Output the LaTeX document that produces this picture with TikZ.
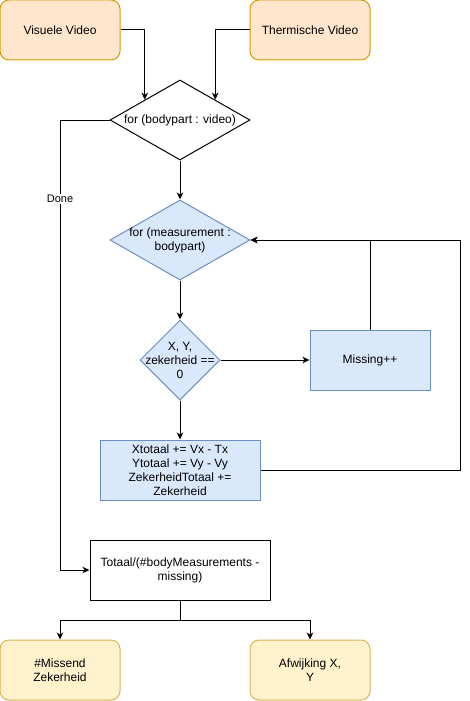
\documentclass[tikz,border=0pt]{standalone}
\usepackage{fontspec}
\setmainfont{Liberation Sans}
\usetikzlibrary{shapes.geometric,arrows.meta}
\definecolor{orF}{HTML}{FFE6CC}\definecolor{orS}{HTML}{D79B00}
\definecolor{blF}{HTML}{DAE8FC}\definecolor{blS}{HTML}{6C8EBF}
\definecolor{yeF}{HTML}{FFF2CC}\definecolor{yeS}{HTML}{D6B656}
\tikzset{
  base/.style={inner sep=0pt, align=center, font=\fontsize{12}{14}\selectfont, line width=1pt},
  term/.style={base, draw=orS, fill=orF, rounded corners=9pt, minimum width=120pt, minimum height=60pt},
  outp/.style={base, draw=yeS, fill=yeF, rounded corners=9pt, minimum width=120pt, minimum height=60pt},
  proc/.style={base, draw=blS, fill=blF},
  plain/.style={base, draw=black, fill=white},
  dia/.style={base, shape=diamond, aspect=1},
  arr/.style={line width=1pt, -{Stealth[length=7pt,width=6.5pt,inset=2pt]}},
  ln/.style={line width=1pt},
  lbl/.style={inner sep=1pt, fill=white, font=\fontsize{11}{13}\selectfont}
}
\begin{document}
\begin{tikzpicture}[x=1pt,y=-1pt]
\useasboundingbox (0,0) rectangle (469,701);
\node[term] (v1) at (60,30) {Visuele Video};
\node[term] (t1) at (310,30) {Thermische Video};
\node[dia, draw=black, fill=white, minimum width=140pt, minimum height=80pt,
  label={[base,line width=0pt]center:for (bodypart : video)}] (d1) at (180,120) {};
\node[dia, draw=blS, fill=blF, minimum width=140pt, minimum height=80pt,
  label={[base,line width=0pt]center:for (measurement :\\bodypart)}] (d2) at (180,240) {};
\node[dia, draw=blS, fill=blF, minimum width=80pt, minimum height=80pt,
  label={[base,line width=0pt]center:X, Y,\\zekerheid ==\\0}] (d3) at (180,360) {};
\node[proc, minimum width=120pt, minimum height=60pt] (mi) at (370,360) {Missing++};
\node[proc, minimum width=160pt, minimum height=60pt] (xt) at (180,470) {Xtotaal += Vx - Tx\\Ytotaal += Vy - Vy\\ZekerheidTotaal +=\\Zekerheid};
\node[plain, minimum width=180pt, minimum height=60pt] (tot) at (180,570) {Totaal/(\#bodyMeasurements -\\missing)};
\node[outp] (ms) at (60,670) {\#Missend\\Zekerheid};
\node[outp] (af) at (310,670) {Afwijking X,\\Y};
\coordinate (rc) at (460,240);
\coordinate (dc) at (60,570);
\draw[arr] (v1.east) -| (d1.north west);
\draw[arr] (t1.west) -| (d1.north east);
\draw[arr] (d1.south) -- (d2.north);
\draw[arr] (d2.south) -- (d3.north);
\draw[arr] (d3.east) -- (mi.west);
\draw[arr] (d3.south) -- (xt.north);
\draw[arr] (mi.north) |- (d2.east);
\draw[arr] (xt.east) -| (rc) -- (d2.east);
\draw[arr] (d1.west) -| (dc) -- (tot.west);
\node[lbl] (done) at (60,199) {Done};
\draw[arr] (tot.south) -- ++(0,20) -| (ms.north);
\draw[arr] (tot.south) -- ++(0,20) -| (af.north);
\end{tikzpicture}
\end{document}
